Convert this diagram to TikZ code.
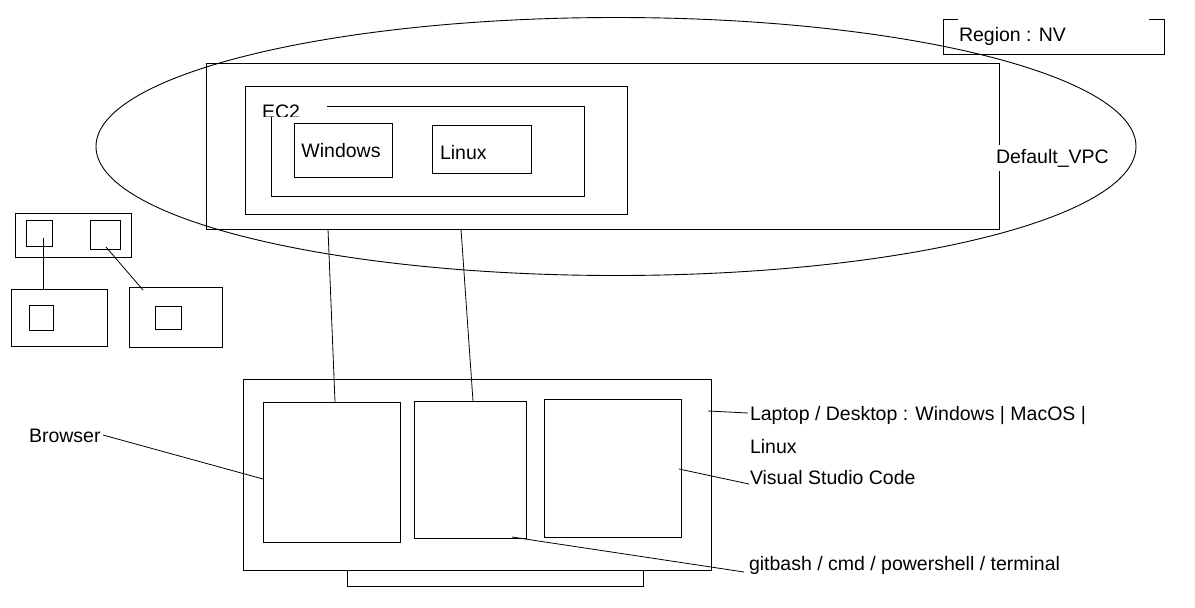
\documentclass[tikz,border=0pt]{standalone}
\usepackage{fontspec}
\setmainfont{Liberation Sans}
\begin{document}
\begin{tikzpicture}[x=1pt,y=-1pt,
  line width=0.9pt,
  box/.style={draw, inner sep=0pt, outer sep=0pt},
  lbl/.style={inner sep=0pt, outer sep=0pt, font=\fontsize{19.5}{23}\selectfont},
  conn/.style={line width=0.8pt}]
\useasboundingbox (0,0) rectangle (1195,608);
\newcommand{\mybox}[5]{\node[box, minimum width={(#4-#2)*1pt}, minimum height={(#5-#3)*1pt}] (#1) at ({(#2+#4)/2},{(#3+#5)/2}) {};}

% Region ellipse
\draw (616,146.5) ellipse [x radius=520, y radius=129];

% Region label bracket
\draw (958,19) -- (943,19) -- (943,54) -- (1164,54) -- (1164,19) -- (1149,19);
\node[lbl, anchor=base west] (region) at (959,41) {Region : NV};

% Default VPC
\mybox{vpc}{206}{63}{999}{229}
\node[lbl, anchor=base west, fill=white, inner ysep=4pt] (vpclbl) at (996,163) {Default\_VPC};

% EC2 outer
\mybox{ec2outer}{245}{86}{627}{214}
% EC2 box with gap
\draw (327,106) -- (584,106) -- (584,196) -- (271,196) -- (271,117);
\begin{scope}
  \clip (255,95) rectangle (320,116);
  \node[lbl, anchor=base west] (ec2) at (262,118) {EC2};
\end{scope}

\mybox{win}{294}{123}{392}{177}
\node[lbl, anchor=base] (winlbl) at (341,157) {Windows};
\mybox{lin}{432}{125}{531}{173}
\node[lbl, anchor=base west] (linlbl) at (440,159) {Linux};

% Left small diagram
\mybox{top}{15}{213}{131}{257}
\mybox{sq1}{26}{220}{52}{246}
\mybox{sq2}{90}{220}{120}{249}
\mybox{bl}{11}{289}{107}{346}
\mybox{blin}{29}{305}{53}{330}
\mybox{br}{129}{287}{222}{347}
\mybox{brin}{155}{306}{181}{329}
\coordinate (s1) at (43,238);
\coordinate (s2) at (106,247);
\coordinate (s3) at (143,290);
\draw[conn] (s1) -- (s1 |- bl.north);
\draw[conn] (s2) -- (s3);

% Laptop
\mybox{laptop}{243}{379}{711}{570}
\draw (347,570) -- (347,586) -- (643,586) -- (643,570);
\mybox{browser}{263}{402}{400}{542}
\mybox{term}{414}{401}{526}{538}
\mybox{vsc}{544}{399}{681}{537}

% connectors VPC -> laptop
\coordinate (c1) at (328,229);
\coordinate (c2) at (461,229);
\draw[conn] (c1) -- (335,402);
\draw[conn] (c2) -- (473,401);

% labels right
\node[lbl, anchor=base west] (laplbl) at (750,420) {Laptop / Desktop : Windows | MacOS |};
\node[lbl, anchor=base west] (laplbl2) at (750,453) {Linux};
\node[lbl, anchor=base west] (vsclbl) at (750,484) {Visual Studio Code};
\node[lbl, anchor=base west] (termlbl) at (749,570) {gitbash / cmd / powershell / terminal};
\node[lbl, anchor=base west] (brlbl) at (29,442) {Browser};

\coordinate (lap1) at (708,411);
\coordinate (lap2) at (748,413);
\draw[conn] (lap1) -- (lap2);
\coordinate (v1) at (679,469);
\coordinate (v2) at (749,484);
\draw[conn] (v1) -- (v2);
\coordinate (t1) at (512,537);
\coordinate (t2) at (744,572);
\draw[conn] (t1) -- (t2);
\coordinate (b1) at (103,435);
\draw[conn] (b1) -- (browser.west |- 0,479);
\end{tikzpicture}
\end{document}
